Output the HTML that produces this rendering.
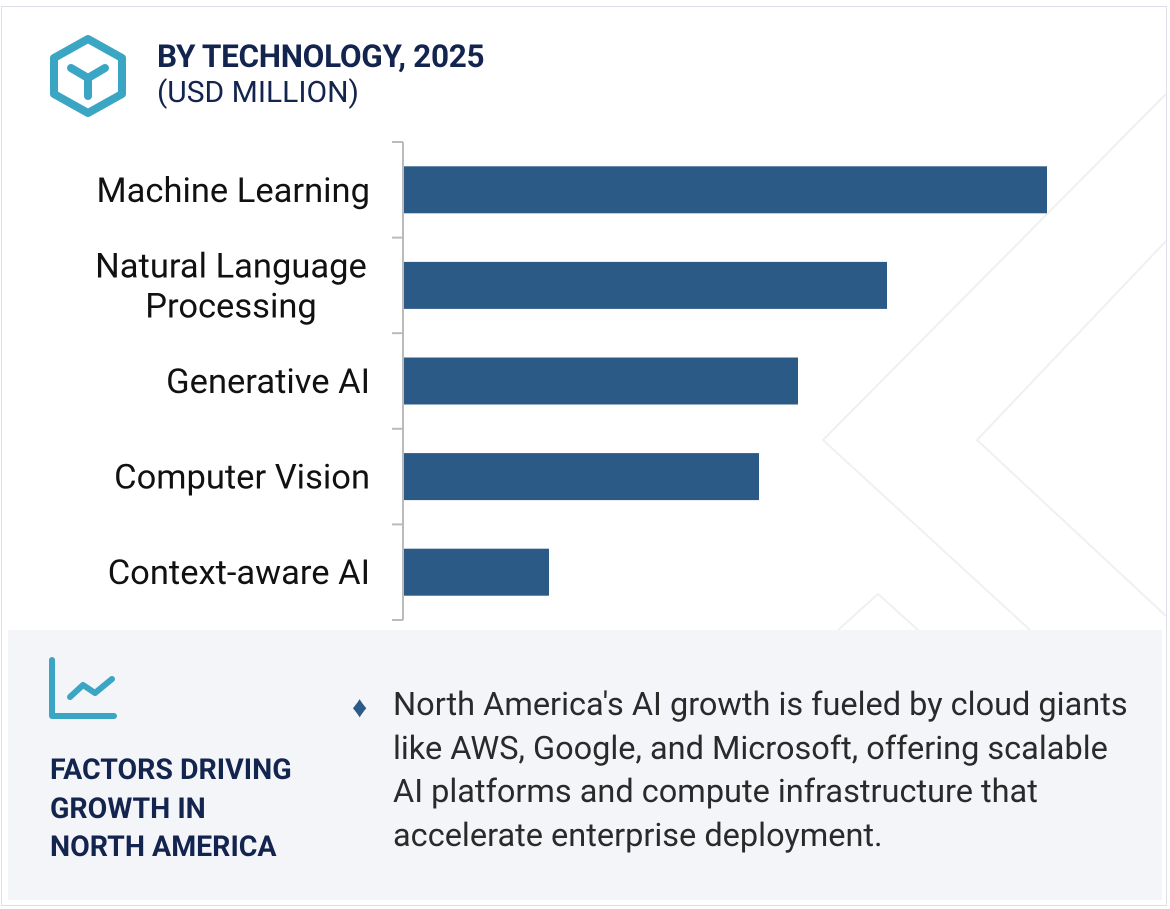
<!DOCTYPE html>
<html><head><meta charset="utf-8"><style>
body{margin:0;width:1170px;height:909px;background:#fff;font-family:"Roboto","Liberation Sans",sans-serif;overflow:hidden;position:relative}
.frame{position:absolute;left:1px;top:6px;width:1166px;height:900px;border:1px solid #dedfe6;box-sizing:border-box}
.t1{position:absolute;left:157px;top:38px;font-size:31.5px;font-weight:bold;color:#13244f;letter-spacing:-0.3px}
.t2{position:absolute;left:157px;top:75px;font-size:30px;color:#13244f}
.panel{position:absolute;left:8px;top:630px;width:1154px;height:270px;background:#f3f5f9}
.ft{position:absolute;left:50px;top:751px;font-size:28.5px;font-weight:bold;color:#13244f;line-height:38.5px}
.body{position:absolute;left:393px;top:683px;font-size:32.5px;color:#2a2a2a;line-height:43.5px;width:760px}
.dia{position:absolute;left:352px;top:690px;color:#2b5a87;font-size:30px}
</style></head><body>
<div class="frame"></div>
<svg width="1170" height="909" style="position:absolute;left:0;top:0">
<g fill="none" stroke="#f0f0f0" stroke-width="2">
<polyline points="1166,94 823,440 1030,630"/>
<polyline points="1166,241 977,440 1166,616"/>
<polyline points="838,630 878,594 918,630"/>
</g>
</svg>
<svg width="90" height="90" style="position:absolute;left:45px;top:30px">
<polygon points="43,9 77,28 77,64 43,83 9,64 9,28" fill="none" stroke="#3aa6c4" stroke-width="8" stroke-linejoin="round"/>
<path d="M26,38 L43,48 L60,38 M43,48 L43,66" fill="none" stroke="#3aa6c4" stroke-width="8" stroke-linecap="round" stroke-linejoin="round"/>
</svg>
<div class="t1">BY TECHNOLOGY, 2025</div>
<div class="t2">(USD MILLION)</div>
<svg id="chart" width="1170" height="640" style="position:absolute;left:0;top:0"></svg>
<div class="panel"></div>
<svg width="80" height="80" style="position:absolute;left:45px;top:652px">
<path d="M7,8 L7,64 L69,64" fill="none" stroke="#3aa6c4" stroke-width="6" stroke-linecap="round" stroke-linejoin="round"/>
<path d="M25,45 L38,33 L50,41 L67,27" fill="none" stroke="#3aa6c4" stroke-width="6" stroke-linecap="round" stroke-linejoin="round"/>
</svg>
<div class="ft">FACTORS DRIVING<br>GROWTH IN<br>NORTH AMERICA</div>
<div class="dia">♦</div>
<div class="body">North America's AI growth is fueled by cloud giants<br>like AWS, Google, and Microsoft, offering scalable<br>AI platforms and compute infrastructure that<br>accelerate enterprise deployment.</div>
<script>
const categories=[["Machine Learning"],["Natural Language","Processing"],["Generative AI"],["Computer Vision"],["Context-aware AI"]];
const values=[64.4,48.4,39.5,35.6,14.6];
const x0=403,pxPerUnit=10,top0=142,band=95.6,barH=47;
const xs=v=>x0+v*pxPerUnit;
const yb=i=>top0+i*band;
const svg=document.getElementById('chart');
const NS='http://www.w3.org/2000/svg';
function mk(t,a){const e=document.createElementNS(NS,t);for(const k in a)e.setAttribute(k,a[k]);svg.appendChild(e);return e;}
values.forEach((v,i)=>{
 const r=mk('rect',{x:x0+1,y:yb(i)+(band-barH)/2,width:xs(v)-x0-1,height:barH,fill:'#2b5a87'});
 
 
 const lines=categories[i];const cy=yb(i)+band/2;
 const multi=lines.length>1;
 lines.forEach((l,j)=>{
  const t=mk('text',{x:multi?231:370,y:cy+12+(j-(lines.length-1)/2)*40,'text-anchor':multi?'middle':'end','font-size':'34.5','fill':'#111','font-family':'Roboto, Liberation Sans, sans-serif'});
  t.textContent=l;
  
  
 });
});
const ax=mk('line',{x1:x0,y1:top0,x2:x0,y2:top0+band*categories.length,stroke:'#bbb','stroke-width':2});


for(let i=0;i<=categories.length;i++){
 const tk=mk('line',{x1:x0-11,y1:yb(i),x2:x0,y2:yb(i),stroke:'#bbb','stroke-width':2});
 
 
}
</script>
</body></html>
